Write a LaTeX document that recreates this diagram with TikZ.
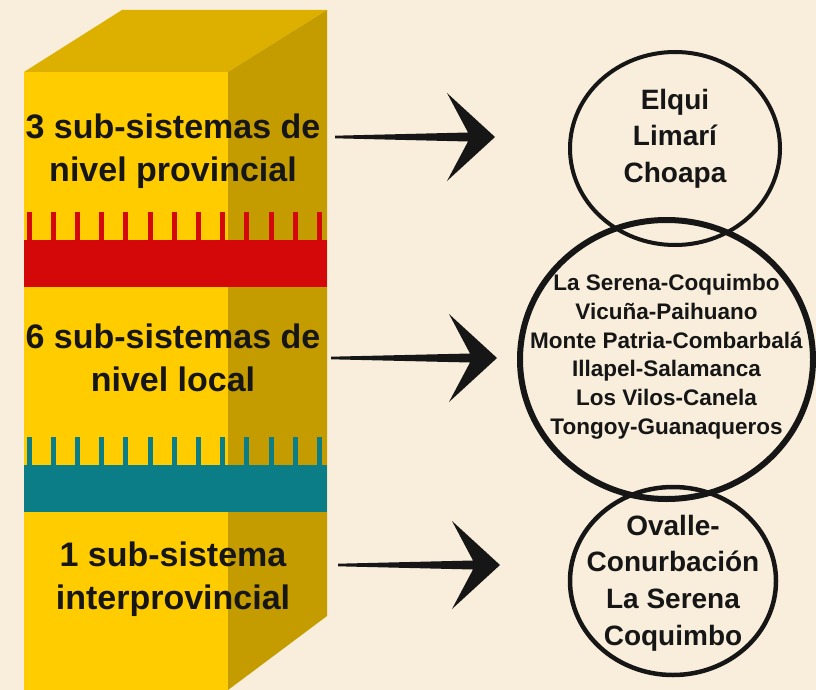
\documentclass[tikz,border=0pt]{standalone}
\usepackage{fontspec}
\setmainfont{Liberation Sans}
\usetikzlibrary{shapes.geometric}
\definecolor{bg}{HTML}{F8EEDB}
\definecolor{frontc}{HTML}{FFCC00}
\definecolor{sidec}{HTML}{C49C00}
\definecolor{topc}{HTML}{DDB000}
\definecolor{redc}{HTML}{D40808}
\definecolor{tealc}{HTML}{0A7D86}
\definecolor{ink}{HTML}{161616}
\newcommand\fatarrow[2]{%
  \fill[ink] ([yshift=-1.3pt]#1) -- ([xshift=-27pt,yshift=-4.5pt]#2)
    -- ([xshift=-48pt,yshift=-44pt]#2) -- (#2)
    -- ([xshift=-48pt,yshift=44pt]#2) -- ([xshift=-27pt,yshift=4.5pt]#2)
    -- ([yshift=1.3pt]#1) -- cycle;}
\tikzset{
  lbl/.style={font=\bfseries\fontsize{34}{43}\selectfont, text=ink, align=center, inner sep=0pt},
  ctxt/.style={font=\bfseries\fontsize{28}{36.6}\selectfont, text=ink, align=center, inner sep=0pt},
  ctxtsmall/.style={font=\bfseries\fontsize{22.5}{28.7}\selectfont, text=ink, align=center, inner sep=0pt},
  ring/.style={draw=ink, ellipse, inner sep=0pt, line width=#1},
  ring/.default=4pt
}
\begin{document}
\begin{tikzpicture}[x=1pt,y=-1pt]
\fill[bg] (0,0) rectangle (816,690);
\useasboundingbox (0,0) rectangle (816,690);
% block
\fill[topc] (24,72) -- (122,10) -- (327,10) -- (228,72) -- cycle;
\fill[sidec] (228,72) -- (327,10) -- (327,616) -- (228,690) -- cycle;
\fill[frontc] (24,72) rectangle (228,690);
% bands
\fill[redc] (24,240) rectangle (327,287);
\foreach \k in {0,...,12} \fill[redc] ({26.5+24.2*\k},212) rectangle ({31.5+24.2*\k},241);
\fill[tealc] (24,465) rectangle (327,512);
\foreach \k in {0,...,12} \fill[tealc] ({26.5+24.2*\k},437) rectangle ({31.5+24.2*\k},466);
% labels
\node[lbl] (l1) at (173,151.5) {3 sub-sistemas de\\nivel provincial};
\node[lbl] (l2) at (173,358) {6 sub-sistemas de\\nivel local};
\node[lbl] (l3) at (173,579) {1 sub-sistema\\interprovincial};
% circles
\node[ring=6pt, minimum width=293pt, minimum height=279pt] (c2) at (666.5,359.5) {};
\node[ring=4pt, minimum width=210pt, minimum height=193pt] (c1) at (675,148.5) {};
\node[ring=4.5pt, minimum width=206pt, minimum height=188pt] (c3) at (673,581) {};
\node[ctxt] (t1) at (675,138.5) {Elqui\\Limarí\\Choapa};
\node[ctxtsmall] (t2) at (666.5,356.6) {La Serena-Coquimbo\\Vicuña-Paihuano\\Monte Patria-Combarbalá\\Illapel-Salamanca\\Los Vilos-Canela\\Tongoy-Guanaqueros};
\node[ctxt] (t3) at (673,583) {Ovalle-\\Conurbación\\La Serena\\Coquimbo};
% arrows
\coordinate (s1) at (335,137); \coordinate (e1) at (495,137);
\coordinate (s2) at (331,358); \coordinate (e2) at (497,358);
\coordinate (s3) at (338,565); \coordinate (e3) at (500,565);
\fatarrow{s1}{e1}
\fatarrow{s2}{e2}
\fatarrow{s3}{e3}
\end{tikzpicture}
\end{document}
